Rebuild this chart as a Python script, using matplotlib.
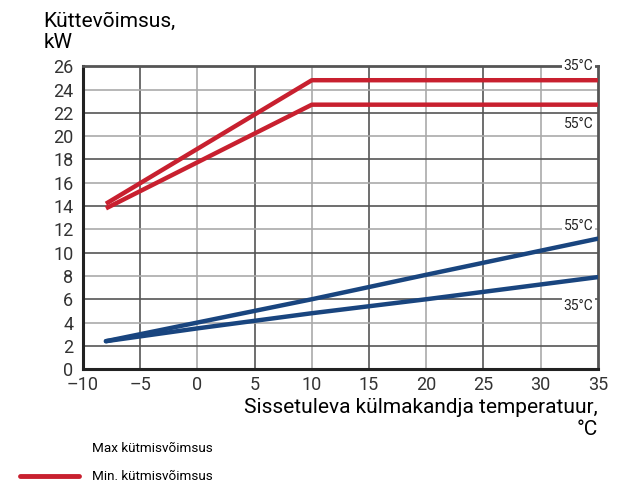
import matplotlib.pyplot as plt
from matplotlib.lines import Line2D

plt.rcParams['font.family'] = ['Roboto', 'DejaVu Sans']

# Heating capacity vs incoming brine temperature
max_35_t = [-8, 10, 35]
max_35_kw = [14.2, 24.8, 24.8]
max_55_t = [-8, 10, 35]
max_55_kw = [13.8, 22.7, 22.7]

min_55_t = [-8, 0, 10, 20, 35]
min_55_kw = [2.4, 4.0, 6.0, 8.1, 11.2]
min_35_t = [-8, 0, 10, 20, 35]
min_35_kw = [2.4, 3.5, 4.8, 6.0, 7.9]

xticks = list(range(-10, 36, 5))
yticks = list(range(0, 27, 2))

red = '#c8202f'
blue = '#19457f'

fig = plt.figure(figsize=(6.34, 4.87), dpi=100)
ax = fig.add_axes([0.131, 0.242, 0.812, 0.622])

for i, x in enumerate(xticks[1:-1]):
    ax.axvline(x, color='#555555' if i % 2 == 0 else '#aaaaaa', lw=1.2, zorder=1)
for i, y in enumerate(yticks[1:-1]):
    ax.axhline(y, color='#555555' if i % 2 == 0 else '#aaaaaa', lw=1.2, zorder=1)

ax.plot(max_35_t, max_35_kw, color=red, lw=3.2, solid_capstyle='butt', zorder=3)
ax.plot(max_55_t, max_55_kw, color=red, lw=3.2, solid_capstyle='butt', zorder=3)
ax.plot(min_55_t, min_55_kw, color=blue, lw=3.2, solid_capstyle='round', zorder=3)
ax.plot(min_35_t, min_35_kw, color=blue, lw=3.2, solid_capstyle='round', zorder=3)

ax.set_xlim(-10, 35)
ax.set_ylim(0, 26)
ax.set_xticks(xticks)
ax.set_yticks(yticks)
ax.set_xticklabels([str(v).replace('-', '–') for v in xticks])
ax.tick_params(axis='both', length=0, labelsize=13, colors='#333333')
ax.tick_params(axis='y', pad=7)
ax.tick_params(axis='x', pad=5)

for side in ['left', 'bottom']:
    ax.spines[side].set_color('#222222')
    ax.spines[side].set_linewidth(2.2)
ax.spines['top'].set_color('#555555')
ax.spines['top'].set_linewidth(2)
ax.spines['right'].set_color('#555555')
ax.spines['right'].set_linewidth(2)

box = dict(facecolor='white', edgecolor='none', pad=1.5)
lbl = dict(ha='right', fontsize=10, color='#222222', zorder=4, bbox=box)
ax.text(34.6, 26.0, '35°C', va='center', **lbl)
ax.text(34.6, 21.0, '55°C', va='center', **lbl)
ax.text(34.6, 12.3, '55°C', va='center', **lbl)
ax.text(34.6, 5.4, '35°C', va='center', **lbl)

fig.text(0.069, 0.975, 'Küttevõimsus,\nkW', ha='left', va='top', fontsize=15,
         linespacing=1.15)
fig.text(0.943, 0.182, 'Sissetuleva külmakandja temperatuur,\n°C', ha='right',
         va='top', fontsize=15, linespacing=1.15)

fig.text(0.145, 0.08, 'Max kütmisvõimsus', ha='left', va='center', fontsize=9.7)
fig.text(0.145, 0.022, 'Min. kütmisvõimsus', ha='left', va='center', fontsize=9.7)
fig.add_artist(Line2D([0.031, 0.124], [0.022, 0.022], transform=fig.transFigure,
                      color=red, lw=3.5, solid_capstyle='round'))

fig.savefig('out.png', dpi=100)
